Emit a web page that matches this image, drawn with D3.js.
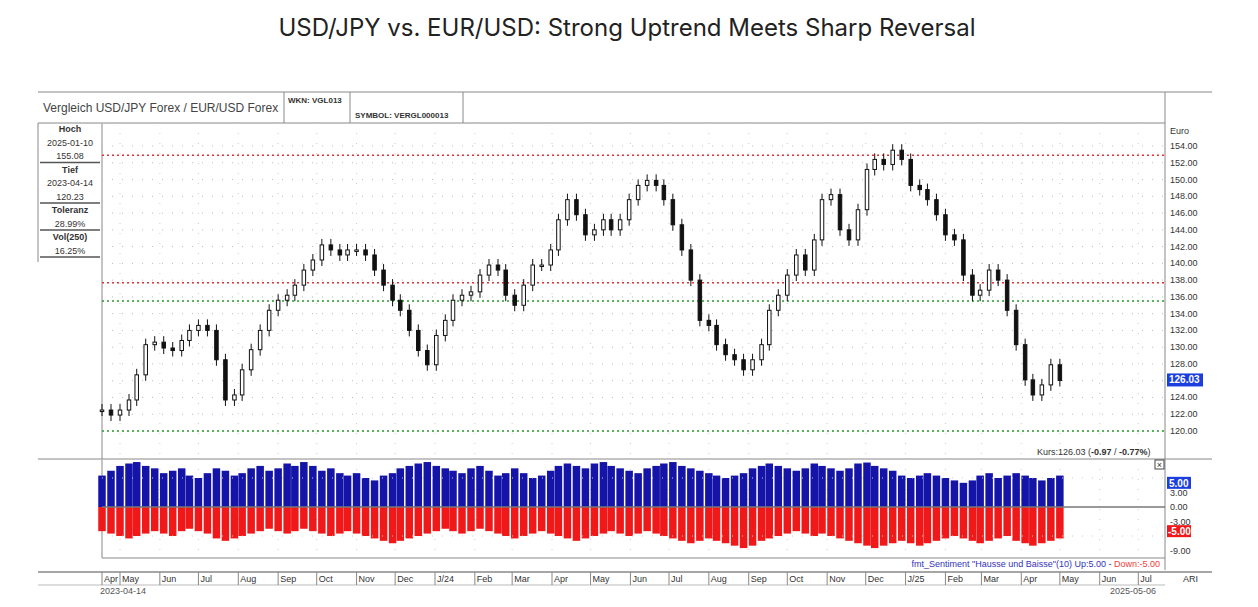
<!DOCTYPE html>
<html><head><meta charset="utf-8">
<script src="https://cdn.jsdelivr.net/npm/d3@7"></script>
<style>body{margin:0;background:#fff;font-family:Arial,"Liberation Sans",sans-serif}</style>
</head><body><svg id="c" width="1258" height="607"></svg>
<script>
const closes=[122.5,121.9,122.5,123.7,126.7,130.3,130.6,129.9,129.6,130.8,132,132.6,132,128.5,123.7,124.3,127.3,129.7,132,134.4,135.6,136.2,137.4,139.2,140.4,142.2,141.6,141,141.6,141.6,141,139.2,137.4,135.6,134.4,132,129.6,127.9,131.4,133.2,135.6,136.2,136.6,138.6,139.8,139.2,136.2,135,137.4,139.8,139.8,141.6,145.2,147.6,145.8,143.4,144,145.2,144,145.2,147.6,149.3,149.9,149.3,147.6,144.6,141.6,138,133.2,132.6,130.3,129.1,128.5,127.3,128.5,130.3,134.4,136.2,138.6,141,139.2,142.8,147.6,148.2,144,142.8,146.4,151.2,152.4,151.8,153.5,152.4,149.3,148.8,147.6,145.8,143.4,142.8,138.6,136.2,136.8,139.2,138,134.4,130.3,126.1,124.3,125.5,127.9,126.03];
const upVals=[6.5,7.5,8.5,9,9.3,8.5,8,7,7.5,8,6.5,6,7,8,7.5,6.5,7,8,8.5,7.5,8,9,8.5,9.3,8.5,7.5,8,7,6.5,7,6,5.5,6.5,7,8,8.5,9,9.3,8.5,8,7.5,7,8,8.5,7.5,6.5,7,8,7,6,6.5,7.5,8.5,9,8.5,8,9,9.3,8.5,8,7.5,7,8,8.5,9,9.3,8.5,8,7.5,7,6.5,6,6.5,7,8,8.5,9,8.5,8,7.5,8,9,8.5,8,7.5,8,9,9.2,8.5,8,7.5,6.5,6,6.5,7,6.5,6,5.5,5,5.5,6.5,7,6,6.5,7,6.5,6,5.5,6,6.5,6,6.5,7];
const downVals=[-5,-5.5,-6,-6.5,-6,-5.5,-5,-5.5,-6,-5,-4.5,-5,-5.5,-6.5,-7,-6.5,-6,-5.5,-5,-4.5,-5,-5.5,-5,-4.5,-5,-5.5,-6,-5.5,-5,-5.5,-6,-6.5,-7,-7.5,-7,-6.5,-6,-5.5,-5,-4.5,-5,-5.5,-5,-4.5,-5,-5.5,-6,-6.5,-6,-5.5,-5,-5.5,-6,-6.5,-7,-6.5,-6,-5.5,-5,-5.5,-6,-5.5,-5,-5.5,-6,-6.5,-7,-7.5,-7,-6.5,-7,-7.5,-8,-8.5,-8,-7,-6.5,-6,-5.5,-5,-5.5,-6,-5.5,-6,-6.5,-7,-7.5,-8,-8.5,-8,-7.5,-7,-7.5,-8,-7.5,-7,-6.5,-6,-6.5,-7,-7.5,-7,-6.5,-6,-7,-7.5,-8,-7.5,-7,-6.5,-6,-5.5,-6];
const priceTicks=d3.range(120,156,2);
const sentTicks=[3,0,-3,-9];
const monthLabels=["Apr","May","Jun","Jul","Aug","Sep","Oct","Nov","Dec","J/24","Feb","Mar","Apr","May","Jun","Jul","Aug","Sep","Oct","Nov","Dec","J/25","Feb","Mar","Apr","May","Jun","Jul"];
const levels=[{v:152.9,c:"#e03030"},{v:137.7,c:"#e03030"},{v:135.5,c:"#2a9a2a"},{v:120.0,c:"#2a9a2a"}];
const infoRows=[["Hoch","2025-01-10","155.08"],["Tief","2023-04-14","120.23"],["Toleranz","28.99%"],["Vol(250)","16.25%"]];

const svg=d3.select("#c");
const start=new Date(2023,3,17), end=new Date(2025,6,21), lastDay=new Date(2025,4,1);
const n=closes.length;
const span=d3.timeDay.count(start,lastDay);
const dates=closes.map((_,i)=>d3.timeDay.offset(start,Math.round(i*span/(n-1))));
const x=d3.scaleTime().domain([start,end]).range([102,1164]);
const y=d3.scaleLinear().domain([120,154]).range([431,146]);
const ys=d3.scaleLinear().domain([0,3]).range([507,492.5]);
svg.append("text").attr("x",627).attr("y",36).attr("text-anchor","middle").attr("font-size",24).attr("fill","#222").attr("font-family","Inter,Roboto,sans-serif").text("USD/JPY vs. EUR/USD: Strong Uptrend Meets Sharp Reversal");

const L=(x1,y1,x2,y2,c="#888",w=1)=>svg.append("line").attr("x1",x1).attr("y1",y1).attr("x2",x2).attr("y2",y2).attr("stroke",c).attr("stroke-width",w);
L(38,92,1212,92);L(38,123,1165,123);L(102,123,102,558,"#888");L(1165,92,1165,570);
L(284,92,284,123);L(350,92,350,123);L(463,92,463,123);L(38,459,1212,459);L(102,558,1165,558);L(38,572,1212,572,"#888",1.5);L(38,585,1165,585,"#bbb");L(38,123,38,262);
svg.append("text").attr("x",43).attr("y",112).attr("font-size",12).attr("fill","#444").text("Vergleich USD/JPY Forex / EUR/USD Forex");
svg.append("text").attr("x",288).attr("y",103).attr("font-size",8).attr("font-weight","bold").attr("fill","#333").text("WKN: VGL013");
svg.append("text").attr("x",355).attr("y",118).attr("font-size",8).attr("font-weight","bold").attr("fill","#333").text("SYMBOL: VERGL000013");
let iy=132;
infoRows.forEach(r=>{r.forEach((t,j)=>{svg.append("text").attr("x",70).attr("y",iy).attr("text-anchor","middle").attr("font-size",9).attr("font-weight",j==0?"bold":"normal").attr("fill","#333").text(t);iy+=13.5;});L(40,iy-10,100,iy-10,"#555",1.5);});
priceTicks.forEach(t=>{L(102,y(t),1165,y(t),"#bbb").attr("stroke-dasharray","1,9");
 svg.append("text").attr("x",1170).attr("y",y(t)+3).attr("font-size",9).attr("fill","#333").text(t.toFixed(2));});
svg.append("text").attr("x",1170).attr("y",134).attr("font-size",9).attr("fill","#333").text("Euro");
const mDates=d3.timeMonth.range(new Date(2023,3,1),new Date(2025,7,1));
mDates.forEach((d,i)=>{const xx=Math.max(102,x(d));
 L(xx,123,xx,459,"#ccc").attr("stroke-dasharray","1,9");L(xx,459,xx,558,"#ccc").attr("stroke-dasharray","1,9");
 L(xx,572,xx,585,"#888");
 svg.append("text").attr("x",xx+2).attr("y",582).attr("font-size",9).attr("fill","#333").text(monthLabels[i]);});
svg.append("text").attr("x",100).attr("y",594).attr("font-size",9).attr("fill","#555").text("2023-04-14");
svg.append("text").attr("x",1110).attr("y",594).attr("font-size",9).attr("fill","#555").text("2025-05-06");
svg.append("text").attr("x",1183).attr("y",582).attr("font-size",9).attr("fill","#333").text("ARI");
levels.forEach(l=>L(102,y(l.v),1165,y(l.v),l.c,1.5).attr("stroke-dasharray","2,3"));
const bw=3.5;
closes.forEach((c,i)=>{const o=i?closes[i-1]:c;const up=c>=o;const xx=x(dates[i]);
 const top=y(Math.max(o,c)),bot=y(Math.min(o,c));
 L(xx,top-6,xx,bot+6,"#111",1);
 svg.append("rect").attr("x",xx-bw/2).attr("y",top).attr("width",bw).attr("height",Math.max(1.5,bot-top)).attr("fill",up?"#fff":"#111").attr("stroke","#111").attr("stroke-width",1);});
svg.append("rect").attr("x",1167).attr("y",y(126.03)-7).attr("width",36).attr("height",13).attr("fill","#1a3ee0");
svg.append("text").attr("x",1169).attr("y",y(126.03)+3).attr("font-size",10).attr("fill","#fff").attr("font-weight","bold").text("126.03");
svg.append("text").attr("x",1037).attr("y",455).attr("font-size",9).attr("fill","#333").html('Kurs:126.03 (<tspan font-weight="bold">-0.97</tspan> / <tspan font-weight="bold">-0.77%</tspan>)');
const step=x(dates[1])-x(dates[0]);
const sw=step-1.5;
for(let i=0;i<n;i++){
 const xx=x(dates[i]);
 svg.append("rect").attr("x",xx-sw/2).attr("y",ys(upVals[i])).attr("width",sw).attr("height",ys(0)-ys(upVals[i])).attr("fill","#1414a8");
 svg.append("rect").attr("x",xx-sw/2).attr("y",ys(0)).attr("width",sw).attr("height",ys(downVals[i])-ys(0)).attr("fill","#f01818");
}
L(102,ys(0),1165,ys(0),"#777",1.5);
[6,-6].forEach(t=>L(102,ys(t),1165,ys(t),"#ccc").attr("stroke-dasharray","1,9"));
sentTicks.forEach(t=>svg.append("text").attr("x",1170).attr("y",ys(t)+3).attr("font-size",9).attr("fill","#333").text(t.toFixed(2)));
svg.append("rect").attr("x",1167).attr("y",ys(5)-6).attr("width",24).attr("height",12).attr("fill","#1a3ee0");
svg.append("text").attr("x",1169).attr("y",ys(5)+4).attr("font-size",10).attr("font-weight","bold").attr("fill","#fff").text("5.00");
svg.append("rect").attr("x",1167).attr("y",ys(-5)-6).attr("width",24).attr("height",12).attr("fill","#f01818");
svg.append("text").attr("x",1168).attr("y",ys(-5)+4).attr("font-size",10).attr("font-weight","bold").attr("fill","#fff").text("-5.00");
svg.append("rect").attr("x",1155).attr("y",460).attr("width",9).attr("height",9).attr("fill","#fff").attr("stroke","#444");
svg.append("text").attr("x",1159.5).attr("y",468).attr("text-anchor","middle").attr("font-size",9).attr("fill","#333").text("×");
svg.append("text").attr("x",1160).attr("y",567).attr("text-anchor","end").attr("font-size",9).html('<tspan fill="#3333bb">fmt_Sentiment "Hausse und Baisse"(10) Up:5.00 - </tspan><tspan fill="#f04040">Down:-5.00</tspan>');
</script></body></html>
